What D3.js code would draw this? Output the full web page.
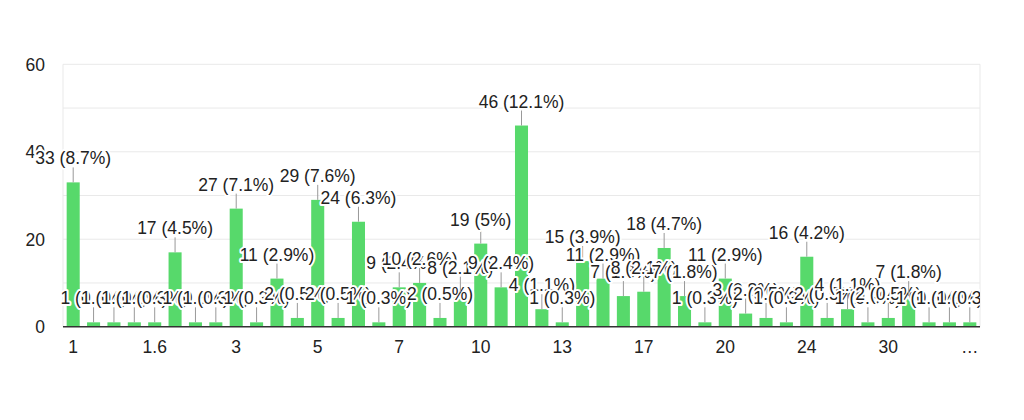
<!DOCTYPE html>
<html>

  <head>
    <title>Responses</title>

    <!--libs-->
    <script src="https://d3js.org/d3.v7.min.js"></script>

    <!--css-->
    <style>
      body {
        margin: 0;
        background: #fff;
      }

      text {
        font-family: "Liberation Sans", Arial, sans-serif;
        font-size: 17.5px;
        fill: #222;
      }

      .grid line {
        stroke: #e9e9e9;
        stroke-width: 1px;
      }

      .baseline {
        stroke: #333;
        stroke-width: 1.6px;
      }

      .bar {
        fill: #57d96b;
      }

      .stem {
        stroke: #999;
        stroke-width: 1px;
      }

      .note text {
        text-anchor: middle;
        stroke: #fff;
        stroke-width: 4px;
        stroke-linejoin: round;
        paint-order: stroke;
      }
    </style>
    <!--css-->
  </head>

  <body>
    <!--html-->
    <div class="barchart" data-width="1024" data-height="420"></div>
    <!--html-->

    <!--js-->
    <script>
      // answers, in the order the form lists them (only every 4th label is shown on the axis)
      var categories = ["1", "1.2", "1.3", "1.5", "1.6", "2", "2.5", "2.8", "3", "3.5",
        "4", "4.5", "5", "5.5", "6", "6.5", "7", "7.5", "8", "9",
        "10", "11", "12", "12.5", "13", "14", "15", "16", "17", "18",
        "19", "19.5", "20", "21", "22", "23", "24", "25", "26", "28",
        "30", "35", "40", "50", "…"];

      var counts = [33, 1, 1, 1, 1, 17, 1, 1, 27, 1,
        11, 2, 29, 2, 24, 1, 9, 10, 2, 8,
        19, 9, 46, 4, 1, 15, 11, 7, 8, 18,
        7, 1, 11, 3, 2, 1, 16, 2, 4, 1,
        2, 7, 1, 1, 1];

      var yTicks = [0, 20, 40, 60];
      var yGrid = [10, 20, 30, 40, 50, 60];

      var el = document.querySelector('.barchart');
      var width = +el.dataset.width,
        height = +el.dataset.height;

      var margin = {
        top: 64.3,
        right: 44,
        bottom: 93.3,
        left: 63
      };

      var total = d3.sum(counts);

      var x = d3.scaleBand()
        .domain(categories)
        .range([margin.left, width - margin.right])
        .paddingInner(0.36)
        .paddingOuter(0.18);

      var y = d3.scaleLinear()
        .domain([0, 60])
        .range([height - margin.bottom, margin.top]);

      var pct = function(v) {
        var p = Math.round(v / total * 1000) / 10;
        return v + " (" + p + "%)";
      };

      var svg = d3.select(el)
        .append("svg")
        .attr("width", width)
        .attr("height", height);

      svg.append("clipPath")
        .attr("id", "area")
        .append("rect")
        .attr("x", 0)
        .attr("y", 0)
        .attr("width", width - margin.right)
        .attr("height", height);

      // grid
      var grid = svg.append("g").attr("class", "grid");

      grid.selectAll(".h")
        .data(yGrid)
        .enter().append("line")
        .attr("x1", margin.left)
        .attr("x2", width - margin.right)
        .attr("y1", function(d) { return y(d); })
        .attr("y2", function(d) { return y(d); });

      grid.selectAll(".v")
        .data([margin.left, width - margin.right])
        .enter().append("line")
        .attr("x1", function(d) { return d; })
        .attr("x2", function(d) { return d; })
        .attr("y1", y(60))
        .attr("y2", y(0));

      // y axis labels
      svg.append("g")
        .selectAll("text")
        .data(yTicks)
        .enter().append("text")
        .attr("x", margin.left - 18)
        .attr("y", function(d) { return y(d); })
        .attr("dy", "0.36em")
        .attr("text-anchor", "end")
        .text(function(d) { return d; });

      // x axis labels
      svg.append("g")
        .selectAll("text")
        .data(categories.filter(function(d, i) { return i % 4 === 0; }))
        .enter().append("text")
        .attr("x", function(d) { return x(d) + x.bandwidth() / 2; })
        .attr("y", y(0) + 26)
        .attr("text-anchor", "middle")
        .text(function(d) { return d; });

      // bars
      svg.append("g")
        .selectAll("rect")
        .data(counts)
        .enter().append("rect")
        .attr("class", "bar")
        .attr("x", function(d, i) { return x(categories[i]); })
        .attr("width", x.bandwidth())
        .attr("y", function(d) { return y(d); })
        .attr("height", function(d) { return y(0) - y(d); });

      svg.append("line")
        .attr("class", "baseline")
        .attr("x1", margin.left)
        .attr("x2", width - margin.right)
        .attr("y1", y(0))
        .attr("y2", y(0));

      // annotations: stem + label, drawn in order so later halos cover earlier ones
      var notes = svg.append("g")
        .attr("clip-path", "url(#area)")
        .selectAll(".note")
        .data(counts)
        .enter().append("g")
        .attr("class", "note")
        .attr("transform", function(d, i) {
          return "translate(" + (x(categories[i]) + x.bandwidth() / 2) + "," + y(d) + ")";
        });

      notes.append("line")
        .attr("class", "stem")
        .attr("y1", 0)
        .attr("y2", -15);

      notes.append("text")
        .attr("y", -18)
        .text(function(d) { return pct(d); });
    </script>
    <!--js-->
  </body>

</html>
